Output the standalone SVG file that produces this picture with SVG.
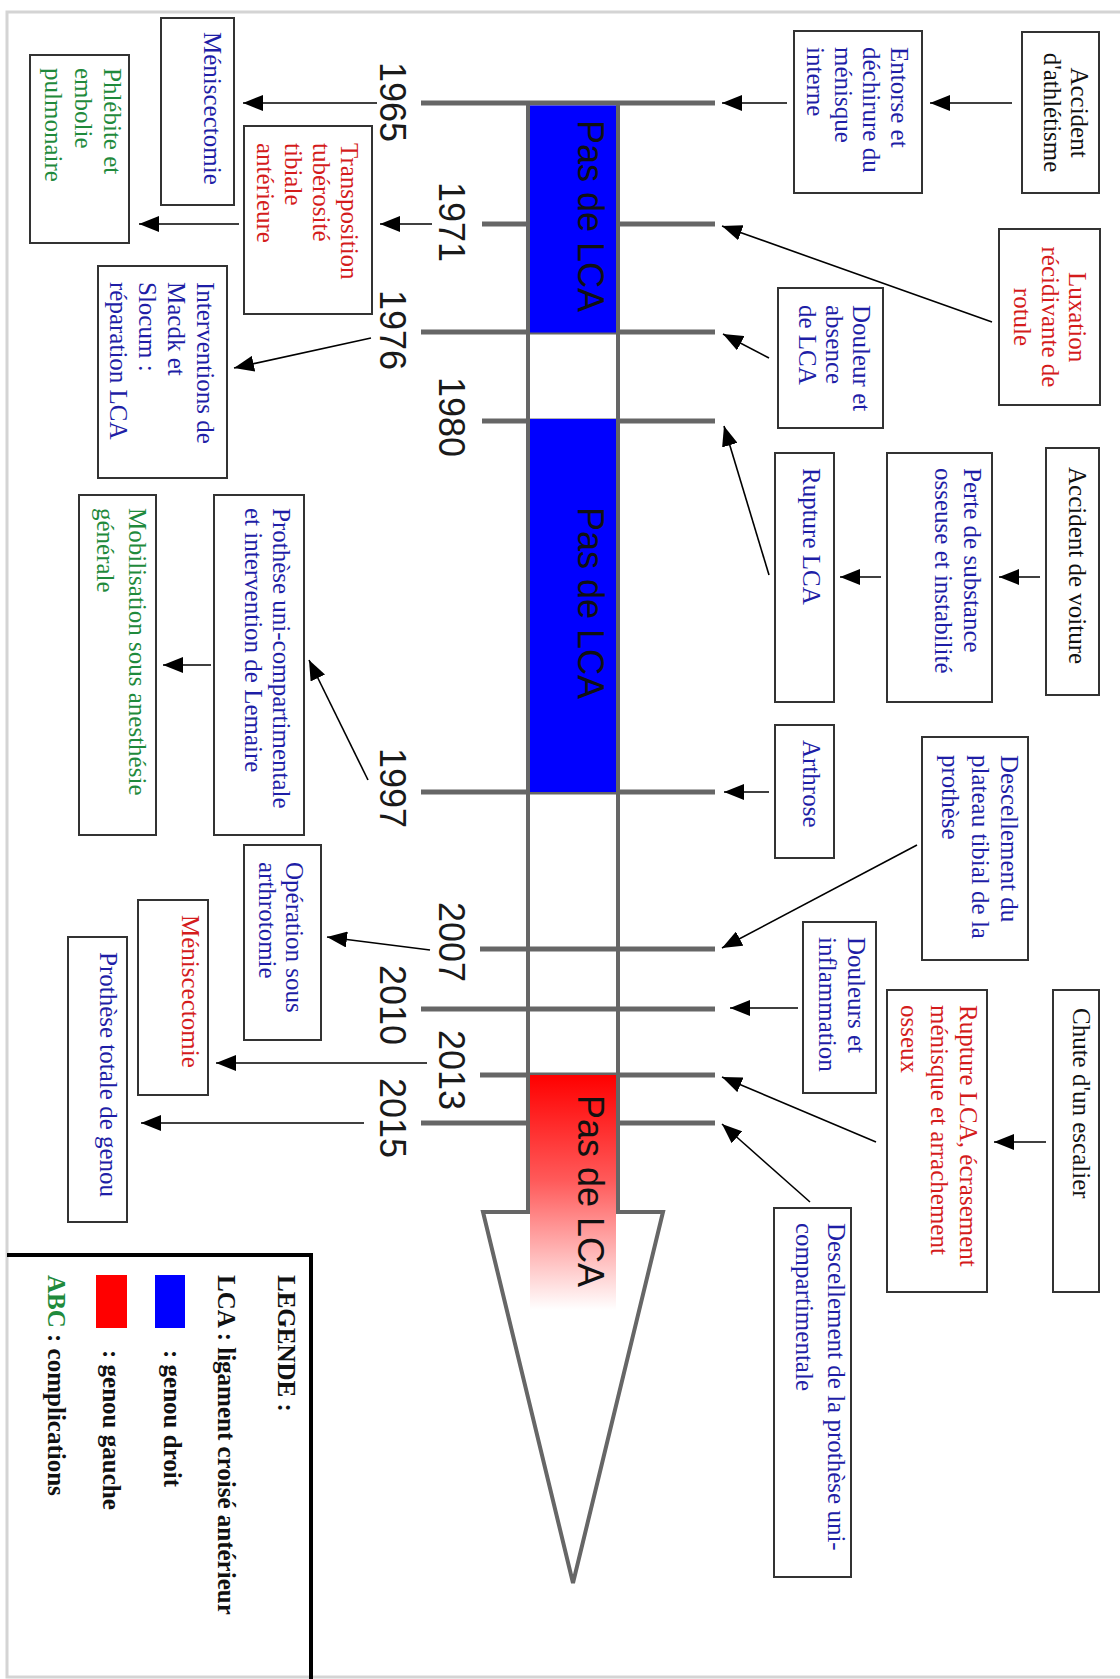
<svg xmlns="http://www.w3.org/2000/svg" width="1120" height="1679" viewBox="0 0 1120 1679">
<style>
.box{fill:#fff;stroke:#333;stroke-width:2}
.t{font-family:"Liberation Serif","Times New Roman",serif;font-size:25px}
.blue{fill:#1e1ea6}.red{fill:#d41c1c}.green{fill:#1f8a3c}.black{fill:#111}
.yr{font-family:"Liberation Sans",Arial,sans-serif;font-size:36px;fill:#1a1a1a}
.pas{font-family:"Liberation Sans",Arial,sans-serif;font-size:36px;fill:#111}
.tick{stroke:#666;stroke-width:5;fill:none}
.conn line{stroke:#000;stroke-width:1.6;marker-end:url(#ah)}
.lg{font-family:"Liberation Serif","Times New Roman",serif;font-size:25px;font-weight:bold;fill:#111}
</style>
<defs>
<marker id="ah" markerUnits="userSpaceOnUse" markerWidth="22" markerHeight="16" refX="20" refY="8" orient="auto"><path d="M0,0 L20,8 L0,16 z" fill="#000"/></marker>
<linearGradient id="redfade" x1="0" y1="0" x2="0" y2="1"><stop offset="0" stop-color="#ff0000"/><stop offset="0.45" stop-color="#ff5a5a"/><stop offset="1" stop-color="#ffffff"/></linearGradient>
</defs>
<rect x="0" y="0" width="1120" height="1679" fill="#fff"/>
<rect x="7" y="12" width="1125" height="1665" fill="none" stroke="#d4d4d4" stroke-width="3"/>

<g id="timeline">
<path d="M528,103 L528,1212 L483,1212 L573,1583 L663,1212 L618,1212 L618,103" fill="#fff" stroke="none"/>
<line class="tick" x1="421" y1="103" x2="715" y2="103"/>
<line class="tick" x1="482" y1="224" x2="715" y2="224"/>
<line class="tick" x1="421" y1="332" x2="715" y2="332"/>
<line class="tick" x1="482" y1="421" x2="715" y2="421"/>
<line class="tick" x1="421" y1="792" x2="715" y2="792"/>
<line class="tick" x1="480" y1="949" x2="715" y2="949"/>
<line class="tick" x1="421" y1="1009" x2="715" y2="1009"/>
<line class="tick" x1="480" y1="1075" x2="715" y2="1075"/>
<line class="tick" x1="421" y1="1123" x2="715" y2="1123"/>
<rect x="530" y="105.5" width="86" height="227" fill="#0000ff"/>
<rect x="530" y="419" width="86" height="373" fill="#0000ff"/>
<rect x="530" y="1075" width="86" height="235" fill="url(#redfade)"/>
<path d="M528,103 L528,1212 L483,1212 L573,1583 L663,1212 L618,1212 L618,103" fill="none" stroke="#666" stroke-width="4"/>
<text class="pas" transform="translate(578,120) rotate(90)">Pas de LCA</text>
<text class="pas" transform="translate(578,507) rotate(90)">Pas de LCA</text>
<text class="pas" transform="translate(578,1095) rotate(90)">Pas de LCA</text>
<text class="yr" transform="translate(380,62) rotate(90)">1965</text>
<text class="yr" transform="translate(439,182) rotate(90)">1971</text>
<text class="yr" transform="translate(380,290) rotate(90)">1976</text>
<text class="yr" transform="translate(439,377) rotate(90)">1980</text>
<text class="yr" transform="translate(380,748) rotate(90)">1997</text>
<text class="yr" transform="translate(439,902) rotate(90)">2007</text>
<text class="yr" transform="translate(380,965) rotate(90)">2010</text>
<text class="yr" transform="translate(439,1030) rotate(90)">2013</text>
<text class="yr" transform="translate(380,1078) rotate(90)">2015</text>
</g>

<g id="n-acc-athl"><rect class="box" x="1022" y="32" width="77" height="161"/>
<text class="t black" text-anchor="middle" transform="translate(1071,112.5) rotate(90)"><tspan x="0" dy="0">Accident</tspan><tspan x="0" dy="27">d'athlétisme</tspan></text></g>
<g id="n-entorse"><rect class="box" x="794" y="31" width="128" height="162"/>
<text class="t blue" transform="translate(891,47) rotate(90)"><tspan x="0" dy="0">Entorse et</tspan><tspan x="0" dy="28">déchirure du</tspan><tspan x="0" dy="28">ménisque</tspan><tspan x="0" dy="28">interne</tspan></text></g>
<g id="n-luxation"><rect class="box" x="999" y="229" width="101" height="176"/>
<text class="t red" text-anchor="middle" transform="translate(1069,317) rotate(90)"><tspan x="0" dy="0">Luxation</tspan><tspan x="0" dy="27.5">récidivante de</tspan><tspan x="0" dy="27.5">rotule</tspan></text></g>
<g id="n-douleur-abs"><rect class="box" x="778" y="288" width="105" height="140"/>
<text class="t blue" transform="translate(853,305) rotate(90)"><tspan x="0" dy="0">Douleur et</tspan><tspan x="0" dy="27">absence</tspan><tspan x="0" dy="27">de LCA</tspan></text></g>
<g id="n-acc-voiture"><rect class="box" x="1046" y="448" width="53" height="247"/>
<text class="t black" transform="translate(1069,467) rotate(90)">Accident de voiture</text></g>
<g id="n-perte"><rect class="box" x="887" y="453" width="105" height="249"/>
<text class="t blue" transform="translate(964,468) rotate(90)"><tspan x="0" dy="0">Perte de substance</tspan><tspan x="0" dy="29">osseuse et instabilité</tspan></text></g>
<g id="n-rupture"><rect class="box" x="775" y="453" width="59" height="249"/>
<text class="t blue" transform="translate(803,468) rotate(90)">Rupture LCA</text></g>
<g id="n-arthrose"><rect class="box" x="775" y="725" width="59" height="133"/>
<text class="t blue" transform="translate(803,740) rotate(90)">Arthrose</text></g>
<g id="n-descel-plateau"><rect class="box" x="922" y="737" width="106" height="223"/>
<text class="t blue" transform="translate(1001,755) rotate(90)"><tspan x="0" dy="0">Descellement du</tspan><tspan x="0" dy="29.5">plateau tibial de la</tspan><tspan x="0" dy="29.5">prothèse</tspan></text></g>
<g id="n-douleurs-infl"><rect class="box" x="803" y="922" width="73" height="171"/>
<text class="t blue" transform="translate(848,937) rotate(90)"><tspan x="0" dy="0">Douleurs et</tspan><tspan x="0" dy="29">inflammation</tspan></text></g>
<g id="n-rupture-ecras"><rect class="box" x="887" y="990" width="100" height="302"/>
<text class="t red" transform="translate(960,1005) rotate(90)"><tspan x="0" dy="0">Rupture LCA, écrasement</tspan><tspan x="0" dy="29.5">ménisque et arrachement</tspan><tspan x="0" dy="29.5">osseux</tspan></text></g>
<g id="n-chute"><rect class="box" x="1053" y="990" width="46" height="302"/>
<text class="t black" transform="translate(1073,1008) rotate(90)">Chute d'un escalier</text></g>
<g id="n-descel-uni"><rect class="box" x="774" y="1208" width="77" height="369"/>
<text class="t blue" transform="translate(828,1223) rotate(90)"><tspan x="0" dy="0">Descellement de la prothèse uni-</tspan><tspan x="0" dy="32">compartimentale</tspan></text></g>

<g id="n-menisc1"><rect class="box" x="161" y="18" width="73" height="187"/>
<text class="t blue" transform="translate(204,32) rotate(90)">Méniscectomie</text></g>
<g id="n-phlebite"><rect class="box" x="30" y="55" width="99" height="188"/>
<text class="t green" transform="translate(104,68) rotate(90)"><tspan x="0" dy="0">Phlébite et</tspan><tspan x="0" dy="29.5">embolie</tspan><tspan x="0" dy="29.5">pulmonaire</tspan></text></g>
<g id="n-transpo"><rect class="box" x="244" y="126" width="128" height="188"/>
<text class="t red" transform="translate(341,143) rotate(90)"><tspan x="0" dy="0">Transposition</tspan><tspan x="0" dy="28">tubérosité</tspan><tspan x="0" dy="28">tibiale</tspan><tspan x="0" dy="28">antérieure</tspan></text></g>
<g id="n-interv"><rect class="box" x="98" y="266" width="129" height="212"/>
<text class="t blue" transform="translate(197,282) rotate(90)"><tspan x="0" dy="0">Interventions de</tspan><tspan x="0" dy="29">Macdk et</tspan><tspan x="0" dy="29">Slocum :</tspan><tspan x="0" dy="29">réparation LCA</tspan></text></g>
<g id="n-prothese-uni"><rect class="box" x="214" y="495" width="90" height="340"/>
<text class="t blue" transform="translate(273,508) rotate(90)"><tspan x="0" dy="0">Prothèse uni-compartimentale</tspan><tspan x="0" dy="28">et intervention de Lemaire</tspan></text></g>
<g id="n-mobilisation"><rect class="box" x="79" y="495" width="77" height="340"/>
<text class="t green" transform="translate(129,508) rotate(90)"><tspan x="0" dy="0">Mobilisation sous anesthésie</tspan><tspan x="0" dy="32">générale</tspan></text></g>
<g id="n-operation"><rect class="box" x="244" y="845" width="77" height="195"/>
<text class="t blue" transform="translate(286,862) rotate(90)"><tspan x="0" dy="0">Opération sous</tspan><tspan x="0" dy="27">arthrotomie</tspan></text></g>
<g id="n-menisc2"><rect class="box" x="138" y="900" width="70" height="195"/>
<text class="t red" transform="translate(182,915) rotate(90)">Méniscectomie</text></g>
<g id="n-prothese-totale"><rect class="box" x="68" y="937" width="59" height="285"/>
<text class="t blue" transform="translate(100,952) rotate(90)">Prothèse totale de genou</text></g>

<g id="connectors" class="conn">
<line x1="1012" y1="103" x2="930" y2="103"/>
<line x1="787" y1="103" x2="722" y2="103"/>
<line x1="992" y1="322" x2="722" y2="226"/>
<line x1="769" y1="358" x2="723" y2="334"/>
<line x1="769" y1="575" x2="724" y2="426"/>
<line x1="1040" y1="577" x2="999" y2="577"/>
<line x1="881" y1="577" x2="840" y2="577"/>
<line x1="769" y1="792" x2="724" y2="792"/>
<line x1="917" y1="845" x2="722" y2="948"/>
<line x1="798" y1="1008" x2="730" y2="1008"/>
<line x1="1046" y1="1142" x2="994" y2="1142"/>
<line x1="876" y1="1142" x2="722" y2="1077"/>
<line x1="810" y1="1202" x2="722" y2="1124"/>
<line x1="377" y1="103" x2="243" y2="103"/>
<line x1="432" y1="224" x2="380" y2="224"/>
<line x1="239" y1="224" x2="139" y2="224"/>
<line x1="371" y1="338" x2="234" y2="368"/>
<line x1="368" y1="780" x2="309" y2="660"/>
<line x1="211" y1="665" x2="163" y2="665"/>
<line x1="430" y1="950" x2="327" y2="937"/>
<line x1="427" y1="1063" x2="216" y2="1063"/>
<line x1="364" y1="1123" x2="141" y2="1123"/>
</g>

<g id="legend">
<path d="M7,1255 L311,1255 L311,1679" fill="none" stroke="#000" stroke-width="4"/>
<text class="lg" transform="translate(278,1275) rotate(90)">LEGENDE :</text>
<text class="lg" transform="translate(218,1275) rotate(90)">LCA : ligament croisé antérieur</text>
<rect x="155" y="1275" width="30" height="53" fill="#0000ff"/>
<text class="lg" transform="translate(164,1350) rotate(90)">: genou droit</text>
<rect x="96" y="1275" width="31" height="53" fill="#ff0000"/>
<text class="lg" transform="translate(103,1350) rotate(90)">: genou gauche</text>
<text class="lg" transform="translate(48,1275) rotate(90)"><tspan fill="#1f8a3c">ABC</tspan> : complications</text>
</g>
</svg>
